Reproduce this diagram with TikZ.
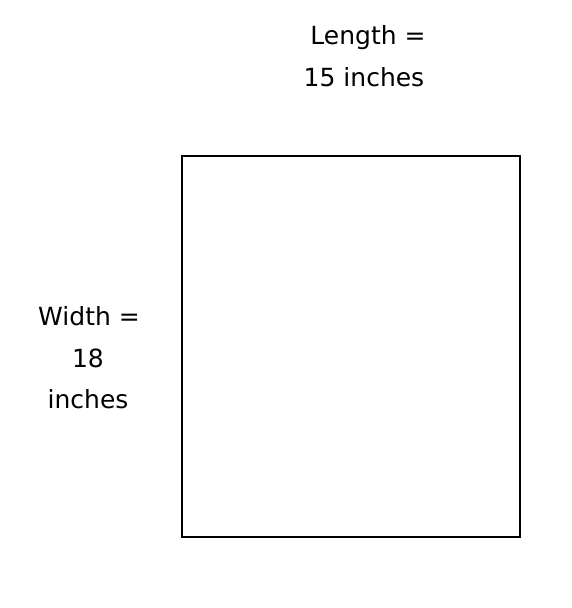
\documentclass[tikz,border=0pt]{standalone}
\usepackage{fontspec}
\setmainfont{DejaVu Sans}
\begin{document}
\begin{tikzpicture}[x=1pt,y=-1pt,
  lbl/.style={anchor=base,inner sep=0pt,font=\fontsize{25}{30}\selectfont},
  box/.style={draw=black,line width=2pt}]
\useasboundingbox (0,0) rectangle (572,608);
\draw[box] (182,156) rectangle (520,537);
\node[lbl] (len1) at (368,44) {Length =};
\node[lbl] (len2) at (364,86) {15 inches};
\node[lbl] (wid1) at (89,325) {Width =};
\node[lbl] (wid2) at (88,367) {18};
\node[lbl] (wid3) at (88,408) {inches};
\end{tikzpicture}
\end{document}
